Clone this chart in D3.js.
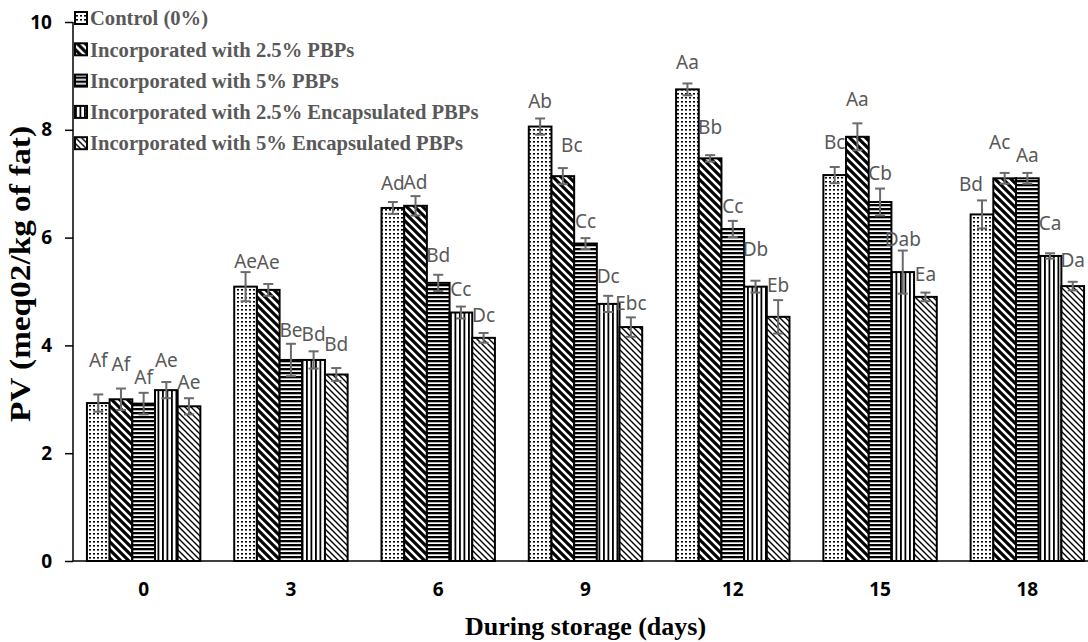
<!DOCTYPE html>
<html>
<head>
<meta charset="utf-8">
<script src="https://cdn.jsdelivr.net/npm/d3@7"></script>
<style>
  body { margin: 0; background: #fff; }
  svg { display: block; }
</style>
</head>
<body>
<div id="chart"></div>
<script>
// storage days on the x axis
var days = ["0", "3", "6", "9", "12", "15", "18"];

var seriesNames = [
    "Control (0%)",
    "Incorporated with 2.5% PBPs",
    "Incorporated with 5% PBPs",
    "Incorporated with 2.5% Encapsulated PBPs",
    "Incorporated with 5% Encapsulated PBPs"
];

// PV values, one row per series
var control  = [2.93, 5.09, 6.55, 8.06, 8.75, 7.16, 6.43];
var pbp25    = [3.00, 5.03, 6.59, 7.14, 7.47, 7.87, 7.10];
var pbp5     = [2.92, 3.73, 5.16, 5.89, 6.16, 6.66, 7.10];
var encap25  = [3.17, 3.73, 4.61, 4.77, 5.09, 5.36, 5.66];
var encap5   = [2.87, 3.46, 4.14, 4.34, 4.53, 4.90, 5.10];

// standard deviations
var controlErr = [0.16, 0.27, 0.11, 0.15, 0.11, 0.15, 0.26];
var pbp25Err   = [0.20, 0.11, 0.18, 0.15, 0.06, 0.25, 0.10];
var pbp5Err    = [0.20, 0.30, 0.15, 0.10, 0.15, 0.25, 0.10];
var encap25Err = [0.15, 0.16, 0.11, 0.15, 0.11, 0.40, 0.05];
var encap5Err  = [0.15, 0.12, 0.09, 0.18, 0.31, 0.08, 0.08];

// significance letters
var controlLbl = ["Af", "Ae", "Ad", "Ab", "Aa", "Bc", "Bd"];
var pbp25Lbl   = ["Af", "Ae", "Ad", "Bc", "Bb", "Aa", "Ac"];
var pbp5Lbl    = ["Af", "Be", "Bd", "Cc", "Cc", "Cb", "Aa"];
var encap25Lbl = ["Ae", "Bd", "Cc", "Dc", "Db", "Dab", "Ca"];
var encap5Lbl  = ["Ae", "Bd", "Dc", "Ebc", "Eb", "Ea", "Da"];

var yTicks = [0, 2, 4, 6, 8, 10];

// how far (px) each letter sits above its bar, as hand-placed in the original
var labelLift = [
    [43, 25, 25, 25, 27, 33, 30],
    [35, 28, 23, 31, 31, 37, 36],
    [26, 30, 28, 22, 23, 29, 23],
    [30, 26, 23, 28, 37, 33, 33],
    [24, 30, 23, 24, 31, 23, 26]
];
var labelNudge = { "1-3": 9, "0-6": -11, "1-6": -5 };

var values = [control, pbp25, pbp5, encap25, encap5];
var errors = [controlErr, pbp25Err, pbp5Err, encap25Err, encap5Err];
var letters = [controlLbl, pbp25Lbl, pbp5Lbl, encap25Lbl, encap5Lbl];

var width = 1088, height = 642;
var axisX = 73;

var svg = d3.select("#chart").append("svg")
    .attr("width", width)
    .attr("height", height);

// fill patterns
var defs = svg.append("defs");

var p0 = defs.append("pattern").attr("id", "pat0")
    .attr("patternUnits", "userSpaceOnUse").attr("width", 4).attr("height", 4);
p0.append("rect").attr("width", 4).attr("height", 4).attr("fill", "#fff");
p0.append("rect").attr("x", 1).attr("y", 1).attr("width", 2).attr("height", 1.6).attr("fill", "#000");

var p1 = defs.append("pattern").attr("id", "pat1")
    .attr("patternUnits", "userSpaceOnUse").attr("width", 8).attr("height", 8);
p1.append("rect").attr("width", 8).attr("height", 8).attr("fill", "#fff");
p1.append("path").attr("d", "M-2,-2L10,10M-2,6L2,10M6,-2L10,2")
    .attr("stroke", "#000").attr("stroke-width", 3.2);

var p2 = defs.append("pattern").attr("id", "pat2")
    .attr("patternUnits", "userSpaceOnUse").attr("width", 4).attr("height", 4);
p2.append("rect").attr("width", 4).attr("height", 4).attr("fill", "#fff");
p2.append("rect").attr("y", 0).attr("width", 4).attr("height", 2.3).attr("fill", "#000");

var p3 = defs.append("pattern").attr("id", "pat3")
    .attr("patternUnits", "userSpaceOnUse").attr("width", 4.5).attr("height", 4);
p3.append("rect").attr("width", 4.5).attr("height", 4).attr("fill", "#fff");
p3.append("rect").attr("x", 0).attr("width", 1.8).attr("height", 4).attr("fill", "#000");

var p4 = defs.append("pattern").attr("id", "pat4")
    .attr("patternUnits", "userSpaceOnUse").attr("width", 6).attr("height", 6);
p4.append("rect").attr("width", 6).attr("height", 6).attr("fill", "#fff");
p4.append("path").attr("d", "M-1.5,-1.5L7.5,7.5M-1.5,4.5L1.5,7.5M4.5,-1.5L7.5,1.5")
    .attr("stroke", "#000").attr("stroke-width", 1.4);

// scales
var x0 = d3.scaleBand()
    .domain(days)
    .range([70, 1101])
    .paddingInner(0.23)
    .paddingOuter(0.115);

var x1 = d3.scaleBand()
    .domain(d3.range(seriesNames.length))
    .range([0, x0.bandwidth()]);

var y = d3.scaleLinear()
    .domain([0, 10])
    .range([561, 22]);

// build flat list of bars
var bars = [];
values.forEach(function(row, s) {
    row.forEach(function(v, i) {
        bars.push({
            s: s, i: i, day: days[i], value: v,
            err: errors[s][i], label: letters[s][i]
        });
    });
});

var g = svg.append("g");

g.selectAll(".bar")
    .data(bars)
    .enter().append("rect")
    .attr("class", "bar")
    .attr("x", function(d) { return x0(d.day) + x1(d.s); })
    .attr("y", function(d) { return y(d.value); })
    .attr("width", x1.bandwidth())
    .attr("height", function(d) { return y(0) - y(d.value); })
    .attr("fill", function(d) { return "url(#pat" + d.s + ")"; })
    .attr("stroke", "#000")
    .attr("stroke-width", 2);

// error bars
var eb = g.selectAll(".err")
    .data(bars)
    .enter().append("g")
    .attr("class", "err")
    .attr("stroke", "#6b6b6b")
    .attr("stroke-width", 2);

function cx(d) { return x0(d.day) + x1(d.s) + x1.bandwidth() / 2; }

eb.append("line")
    .attr("x1", cx).attr("x2", cx)
    .attr("y1", function(d) { return y(d.value + d.err); })
    .attr("y2", function(d) { return y(d.value - d.err); });
eb.append("line")
    .attr("x1", function(d) { return cx(d) - 5; })
    .attr("x2", function(d) { return cx(d) + 5; })
    .attr("y1", function(d) { return y(d.value + d.err); })
    .attr("y2", function(d) { return y(d.value + d.err); });
eb.append("line")
    .attr("x1", function(d) { return cx(d) - 5; })
    .attr("x2", function(d) { return cx(d) + 5; })
    .attr("y1", function(d) { return y(d.value - d.err); })
    .attr("y2", function(d) { return y(d.value - d.err); });

// letters
g.selectAll(".lbl")
    .data(bars)
    .enter().append("text")
    .attr("class", "lbl")
    .attr("x", function(d) { return cx(d) + (labelNudge[d.s + "-" + d.i] || 0); })
    .attr("y", function(d) { return y(d.value) - labelLift[d.s][d.i]; })
    .attr("dy", "0.35em")
    .attr("text-anchor", "middle")
    .style("font-family", "'Noto Sans', sans-serif")
    .style("font-size", "19px")
    .style("fill", "#595959")
    .text(function(d) { return d.label; });

// axes
var yAxis = d3.axisLeft(y).tickValues(yTicks).tickSize(8).tickPadding(13);
var yg = svg.append("g")
    .attr("transform", "translate(" + axisX + ",0)")
    .call(yAxis);
yg.select(".domain").attr("d", "M0," + y(0) + "V" + y(10)).attr("stroke-width", 1.5);
yg.selectAll(".tick line").attr("stroke-width", 1.5);
yg.selectAll("text")
    .style("font-family", "'Noto Sans', sans-serif")
    .style("font-weight", "bold")
    .style("font-size", "19px")
    .style("fill", "#000");

var xAxis = d3.axisBottom(x0).tickSize(0).tickPadding(22);
var xg = svg.append("g")
    .attr("transform", "translate(0," + y(0) + ")")
    .call(xAxis);
xg.select(".domain").attr("d", "M" + axisX + ",0H" + width).attr("stroke-width", 1.5);
xg.selectAll("text")
    .style("font-family", "'Noto Sans', sans-serif")
    .style("font-weight", "bold")
    .style("font-size", "19px")
    .style("fill", "#000");

// axis titles
svg.append("text")
    .attr("x", (x0.range()[0] + x0.range()[1]) / 2)
    .attr("y", 635)
    .attr("text-anchor", "middle")
    .style("font-family", "'Liberation Serif', serif")
    .style("font-weight", "bold")
    .style("font-size", "26px")
    .text("During storage (days)");

svg.append("text")
    .attr("transform", "translate(30,274) rotate(-90)")
    .attr("text-anchor", "middle")
    .attr("textLength", 296)
    .attr("lengthAdjust", "spacingAndGlyphs")
    .style("font-family", "'Liberation Serif', serif")
    .style("font-weight", "bold")
    .style("font-size", "29px")
    .text("PV (meq02/kg of fat)");

// legend
var legend = svg.append("g").attr("class", "legend");
var item = legend.selectAll(".item")
    .data(seriesNames)
    .enter().append("g")
    .attr("class", "item")
    .attr("transform", function(d, i) { return "translate(75," + (18 + i * 31.3) + ")"; });

item.append("rect")
    .attr("x", 0).attr("y", -6)
    .attr("width", 12).attr("height", 12)
    .attr("fill", function(d, i) { return "url(#pat" + i + ")"; })
    .attr("stroke", "#000")
    .attr("stroke-width", 2);

item.append("text")
    .attr("x", 15)
    .attr("dy", "0.35em")
    .style("font-family", "'Liberation Serif', serif")
    .style("font-weight", "bold")
    .style("font-size", "20.6px")
    .style("fill", "#595959")
    .text(function(d) { return d; });
</script>
</body>
</html>
